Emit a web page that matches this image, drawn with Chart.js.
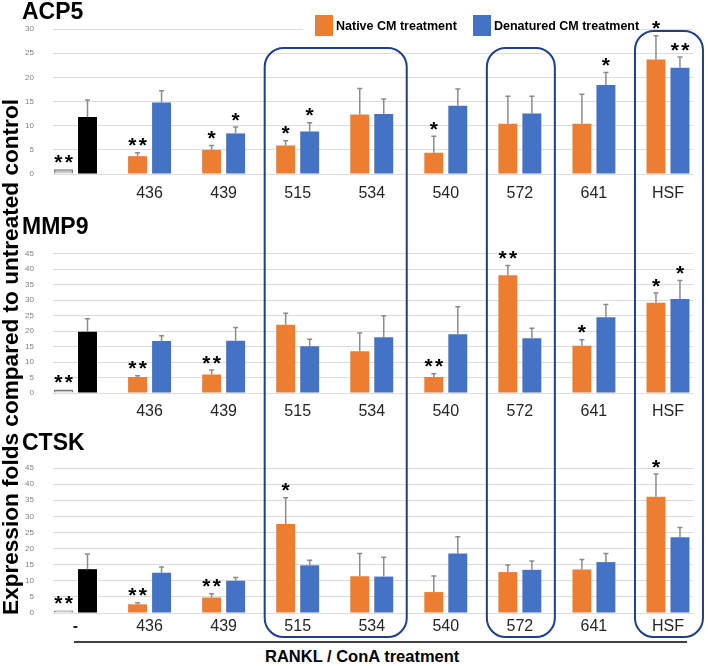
<!DOCTYPE html>
<html>
<head>
<meta charset="utf-8">
<title>ACP5 / MMP9 / CTSK expression</title>
<script src="https://cdn.jsdelivr.net/npm/chart.js@4.4.1/dist/chart.umd.min.js"></script>
<style>
    html, body { margin: 0; padding: 0; background: #fff; }
    #page { position: relative; width: 708px; height: 666px; overflow: hidden;
            font-family: Arial, "Liberation Sans", sans-serif; color: #000; }
    .panel { position: absolute; left: 0; width: 708px; }
    .title { position: absolute; left: 22px; font-weight: bold; font-size: 23px; line-height: 23px; }
    .legend-bg { position: absolute; left: 303px; top: 20px; width: 335px; height: 16px; background: #fff; }
    .swatch { position: absolute; top: 15px; width: 18px; height: 21px; }
    .legend-text { position: absolute; top: 19px; font-weight: bold; font-size: 12.5px; line-height: 14px; white-space: nowrap; }
    #ylabel { position: absolute; left: 11px; top: 357px; transform: translate(-50%, -50%) rotate(-90deg);
              font-weight: bold; font-size: 22.6px; line-height: 24px; white-space: nowrap; }
    #xlabel { position: absolute; left: 265px; top: 647px; font-weight: bold; font-size: 16.5px; line-height: 18px; white-space: nowrap; }
    #frames { position: absolute; left: 0; top: 0; pointer-events: none; }
</style>
</head>
<body>
<div id="page">
    <div class="panel" style="top:0px;height:205px;"><canvas id="acp5Chart"></canvas></div>
    <div class="panel" style="top:230px;height:194px;"><canvas id="mmp9Chart"></canvas></div>
    <div class="panel" style="top:440px;height:204px;"><canvas id="ctskChart"></canvas></div>

    <div class="title" style="top:0px;">ACP5</div>
    <div class="title" style="top:215px;">MMP9</div>
    <div class="title" style="top:431px;">CTSK</div>

    <div class="legend-bg"></div>
    <div class="swatch" style="left:315px;background:#ED7D31;"></div>
    <div class="legend-text" style="left:336px;">Native CM treatment</div>
    <div class="swatch" style="left:473px;background:#4472C4;"></div>
    <div class="legend-text" style="left:494px;">Denatured CM treatment</div>

    <div id="ylabel">Expression folds compared to untreated control</div>
    <div id="xlabel">RANKL / ConA treatment</div>

    <canvas id="frames" width="708" height="666"></canvas>
</div>

<script>
// ------------------------------------
// Data
// ------------------------------------
const categories = ['', '436', '439', '515', '534', '540', '572', '641', 'HSF'];
const ctskLabels = ['-', '436', '439', '515', '534', '540', '572', '641', 'HSF'];

const acp5Native = [1.0, 3.7, 5.0, 5.9, 12.3, 4.4, 10.4, 10.4, 23.7];
const acp5NativeErr = [0, 0.7, 0.9, 1.0, 5.4, 3.4, 5.7, 6.1, 4.9];
const acp5Denatured = [11.8, 14.8, 8.4, 8.8, 12.4, 14.1, 12.5, 18.4, 22.0];
const acp5DenaturedErr = [3.5, 2.4, 1.3, 1.8, 3.1, 3.5, 3.6, 2.6, 2.2];
const acp5NativeSig = ['**', '**', '*', '*', '', '*', '', '', '*'];
const acp5DenaturedSig = ['', '', '*', '*', '', '', '', '*', '**'];

const mmp9Native = [1.1, 5.2, 6.0, 22.1, 13.5, 5.2, 38.1, 15.3, 29.2];
const mmp9NativeErr = [0, 0.4, 1.4, 3.7, 5.9, 1.0, 3.1, 1.9, 3.1];
const mmp9Denatured = [19.8, 16.8, 16.9, 15.1, 18.0, 19.0, 17.7, 24.5, 30.4];
const mmp9DenaturedErr = [4.2, 1.7, 4.3, 2.3, 7.0, 8.9, 3.2, 4.1, 6.0];
const mmp9NativeSig = ['**', '**', '**', '', '', '**', '**', '*', '*'];
const mmp9DenaturedSig = ['', '', '', '', '', '', '', '', '*'];

const ctskNative = [0.8, 2.7, 4.8, 27.6, 11.4, 6.5, 12.7, 13.5, 36.1];
const ctskNativeErr = [0, 0.5, 1.2, 8.2, 7.1, 5.0, 2.2, 3.1, 7.0];
const ctskDenatured = [13.6, 12.5, 10.0, 14.8, 11.3, 18.5, 13.4, 15.8, 23.5];
const ctskDenaturedErr = [4.7, 1.8, 1.0, 1.6, 6.0, 5.2, 2.7, 2.7, 3.0];
const ctskNativeSig = ['**', '**', '**', '*', '', '', '', '', '*'];
const ctskDenaturedSig = ['', '', '', '', '', '', '', '', ''];

// groups outlined by the rounded frames (category indexes)
const framedGroups = [[3, 4], [6], [8]];

const ORANGE = '#ED7D31';
const BLUE = '#4472C4';

Chart.defaults.font.family = 'Arial, "Liberation Sans", sans-serif';

// ------------------------------------
// Error bars + significance stars
// ------------------------------------
const errorStars = {
    id: 'errorStars',
    afterDatasetsDraw(chart) {
        const ctx = chart.ctx;
        const yScale = chart.scales.y;
        chart.data.datasets.forEach((ds, di) => {
            const meta = chart.getDatasetMeta(di);
            meta.data.forEach((bar, i) => {
                const err = ds.errors[i];
                let top = bar.y;
                if (err > 0) {
                    const errY = yScale.getPixelForValue(ds.data[i].y + err);
                    ctx.save();
                    ctx.strokeStyle = '#8c8c8c';
                    ctx.lineWidth = 1.5;
                    ctx.beginPath();
                    ctx.moveTo(bar.x, bar.y);
                    ctx.lineTo(bar.x, errY);
                    ctx.moveTo(bar.x - 2.5, errY);
                    ctx.lineTo(bar.x + 2.5, errY);
                    ctx.stroke();
                    ctx.restore();
                    top = errY;
                }
                const stars = ds.stars[i];
                if (stars) {
                    ctx.save();
                    ctx.fillStyle = '#000';
                    ctx.font = 'bold 21px Arial, "Liberation Sans", sans-serif';
                    ctx.textAlign = 'center';
                    ctx.textBaseline = 'alphabetic';
                    const gap = 10.5;
                    const first = bar.x - gap * (stars.length - 1) / 2;
                    for (let k = 0; k < stars.length; k++) {
                        ctx.fillText('*', first + k * gap, top - 0.5);
                    }
                    ctx.restore();
                }
            });
        });
    }
};

function toPoints(values) {
    return values.map((v, i) => ({ x: i, y: v }));
}

function makePanel(canvasId, p) {
    return new Chart(document.getElementById(canvasId), {
        type: 'bar',
        data: {
            datasets: [{
                label: 'Native CM treatment',
                data: toPoints(p.native),
                errors: p.nativeErr,
                stars: p.nativeSig,
                backgroundColor: categories.map((c, i) => i === 0 ? '#c9c9c9' : ORANGE),
                borderColor: categories.map((c, i) => i === 0 ? '#7a7a7a' : ORANGE),
                borderWidth: categories.map((c, i) => i === 0 ? 1.5 : 0),
                categoryPercentage: 0.648,
                barPercentage: 0.79
            }, {
                label: 'Denatured CM treatment',
                data: toPoints(p.denatured),
                errors: p.denaturedErr,
                stars: p.denaturedSig,
                backgroundColor: categories.map((c, i) => i === 0 ? '#000000' : BLUE),
                borderWidth: 0,
                categoryPercentage: 0.648,
                barPercentage: 0.79
            }]
        },
        options: {
            responsive: true,
            maintainAspectRatio: false,
            animation: false,
            events: [],
            layout: { padding: { top: p.top, bottom: 1, left: 0, right: 15 } },
            plugins: {
                legend: { display: false },
                tooltip: { enabled: false }
            },
            scales: {
                x: {
                    type: 'linear',
                    offset: false,
                    min: -0.304,
                    max: 8.338,
                    grid: { display: false },
                    border: { display: false },
                    afterBuildTicks: scale => { scale.ticks = categories.map((c, i) => ({ value: i })); },
                    afterFit: scale => { scale.height = 30; },
                    ticks: {
                        autoSkip: false,
                        maxRotation: 0,
                        padding: p.labelPad,
                        color: '#262626',
                        font: ctx => ({ size: 16, weight: ctx.index === 0 ? 'bold' : 'normal' }),
                        callback: value => p.labels[value]
                    }
                },
                y: {
                    min: 0,
                    max: p.max,
                    grid: { color: '#dcdcdc', drawTicks: false },
                    border: { display: false },
                    afterFit: scale => { scale.width = 53; },
                    ticks: { stepSize: 5, padding: 19, color: '#808080', font: { size: 8 } }
                }
            }
        },
        plugins: [errorStars]
    });
}

const acp5Chart = makePanel('acp5Chart', {
    native: acp5Native, nativeErr: acp5NativeErr, nativeSig: acp5NativeSig,
    denatured: acp5Denatured, denaturedErr: acp5DenaturedErr, denaturedSig: acp5DenaturedSig,
    labels: categories, max: 30, top: 29, labelPad: 2
});
const mmp9Chart = makePanel('mmp9Chart', {
    native: mmp9Native, nativeErr: mmp9NativeErr, nativeSig: mmp9NativeSig,
    denatured: mmp9Denatured, denaturedErr: mmp9DenaturedErr, denaturedSig: mmp9DenaturedSig,
    labels: categories, max: 45, top: 17, labelPad: 1
});
const ctskChart = makePanel('ctskChart', {
    native: ctskNative, nativeErr: ctskNativeErr, nativeSig: ctskNativeSig,
    denatured: ctskDenatured, denaturedErr: ctskDenaturedErr, denaturedSig: ctskDenaturedSig,
    labels: ctskLabels, max: 45, top: 28, labelPad: -4
});

// ------------------------------------
// Rounded frames across all panels + bottom rule
// ------------------------------------
const fctx = document.getElementById('frames').getContext('2d');
const xs = acp5Chart.scales.x;

fctx.strokeStyle = '#1f3f8c';
fctx.lineWidth = 2;
framedGroups.forEach(group => {
    const left = xs.getPixelForValue(group[0]) - 33;
    const right = xs.getPixelForValue(group[group.length - 1]) + 35;
    const top = group[0] === 8 ? 31 : 48;
    fctx.beginPath();
    fctx.roundRect(left, top, right - left, 637 - top, 19);
    fctx.stroke();
});

fctx.strokeStyle = '#404040';
fctx.beginPath();
fctx.moveTo(74, 642);
fctx.lineTo(687, 642);
fctx.stroke();
</script>
</body>
</html>
